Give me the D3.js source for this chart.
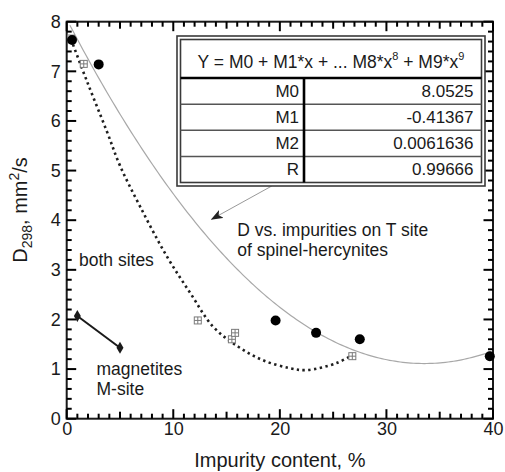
<!DOCTYPE html>
<html>
<head>
<meta charset="utf-8">
<script src="https://cdn.jsdelivr.net/npm/d3@7"></script>
<style>
  html, body { margin: 0; padding: 0; background: #fff; }
  svg { display: block; font-family: "Liberation Sans", Arial, sans-serif; }
</style>
</head>
<body>
<svg id="chart" width="505" height="472"></svg>
<script>
// Diffusivity at 298 K against impurity content
const xTicks = [0, 10, 20, 30, 40];
const yTicks = [0, 1, 2, 3, 4, 5, 6, 7, 8];

// spinel-hercynites, impurities on the T site (filled circles)
const circleX = [0.5, 3.0, 19.6, 23.4, 27.5, 39.7];
const circleY = [7.63, 7.14, 1.98, 1.73, 1.60, 1.26];

// both sites (crossed squares)
const squareX = [0.4, 1.6, 12.3, 15.5, 15.8, 26.8];
const squareY = [7.66, 7.15, 1.98, 1.60, 1.73, 1.26];

// magnetites, M site
const magnetX = [1.0, 5.0];
const magnetY = [2.07, 1.43];

// dotted guide through the "both sites" points
const guideX = [0.4, 1.9, 3.75, 5.0, 6.9, 9.4, 11.6, 13.75, 16.1, 18.4, 20.9, 22.5, 25.3, 26.7];
const guideY = [7.65, 6.8, 5.8, 5.1, 4.27, 3.27, 2.53, 1.85, 1.45, 1.18, 1.02, 0.98, 1.12, 1.27];

// polynomial fit table
const fitHeader = ["Y = M0 + M1*x + ... M8*x", "8", " + M9*x", "9"];
const fitNames = ["M0", "M1", "M2", "R"];
const fitValues = ["8.0525", "-0.41367", "0.0061636", "0.99666"];

(function draw() {
  const svg = d3.select("#chart");
  const pl = 66.7, pr = 493, pt = 21.7, pb = 418.7;

  const x = d3.scaleLinear().domain([0, 40]).range([pl, pr]);
  const y = d3.scaleLinear().domain([0, 8]).range([pb, pt]);

  const ink = "#1a1a1a";

  // tick labels
  const xLab = svg.append("g").attr("transform", `translate(0,${pb})`)
    .call(d3.axisBottom(x).tickValues(xTicks).tickSize(0).tickPadding(4).tickFormat(d3.format("d")));
  xLab.select(".domain").remove();
  xLab.selectAll("text").attr("font-size", 18).attr("fill", ink).attr("font-family", "Liberation Sans, Arial, sans-serif");

  const yLab = svg.append("g").attr("transform", `translate(${pl},0)`)
    .call(d3.axisLeft(y).tickValues(yTicks).tickSize(0).tickPadding(6).tickFormat(d3.format("d")));
  yLab.select(".domain").remove();
  yLab.selectAll("text").attr("font-size", 18).attr("fill", ink).attr("font-family", "Liberation Sans, Arial, sans-serif");

  // frame
  svg.append("rect")
    .attr("x", pl).attr("y", pt)
    .attr("width", pr - pl).attr("height", pb - pt)
    .attr("fill", "none").attr("stroke", ink).attr("stroke-width", 2);

  // inward tick marks on all four sides
  const xMarks = d3.range(0, 41).map(v => ({ v, len: v % 10 === 0 ? 9.5 : v % 5 === 0 ? 7 : 5 }));
  const yMarks = d3.range(0, 41).map(k => ({ v: k / 5, len: k % 5 === 0 ? 9.5 : 5 }));
  const tg = svg.append("g").attr("stroke", "#000").attr("stroke-width", 2);
  tg.selectAll(".xb").data(xMarks).join("line").attr("class", "xb")
    .attr("x1", d => x(d.v)).attr("x2", d => x(d.v))
    .attr("y1", pb).attr("y2", d => pb - d.len);
  tg.selectAll(".xt").data(xMarks).join("line").attr("class", "xt")
    .attr("x1", d => x(d.v)).attr("x2", d => x(d.v))
    .attr("y1", pt).attr("y2", d => pt + d.len);
  tg.selectAll(".yl").data(yMarks).join("line").attr("class", "yl")
    .attr("y1", d => y(d.v)).attr("y2", d => y(d.v))
    .attr("x1", pl).attr("x2", d => pl + d.len);
  tg.selectAll(".yr").data(yMarks).join("line").attr("class", "yr")
    .attr("y1", d => y(d.v)).attr("y2", d => y(d.v))
    .attr("x1", pr).attr("x2", d => pr - d.len);

  // ---- axis titles ----
  svg.append("text")
    .attr("x", (pl + pr) / 2).attr("y", 467)
    .attr("text-anchor", "middle").attr("font-size", 20).attr("fill", ink)
    .text("Impurity content, %");

  const yt = svg.append("text")
    .attr("transform", `translate(27,210) rotate(-90)`)
    .attr("text-anchor", "middle").attr("font-size", 20).attr("fill", ink);
  yt.append("tspan").text("D");
  yt.append("tspan").attr("font-size", 14).attr("dy", 5).text("298");
  yt.append("tspan").attr("dy", -5).text(", mm");
  yt.append("tspan").attr("font-size", 14).attr("dy", -8).text("2");
  yt.append("tspan").attr("dy", 8).text("/s");

  // ---- fitted polynomial (coefficients from the table) ----
  const coef = fitValues.slice(0, 3).map(Number);
  const fitXs = d3.range(0.3, 40.001, 0.25);
  const line = d3.line().x(d => x(d[0])).y(d => y(d[1]));
  svg.append("path")
    .datum(fitXs.map(v => [v, coef[0] + coef[1] * v + coef[2] * v * v]))
    .attr("d", line)
    .attr("fill", "none").attr("stroke", "#a8a8a8").attr("stroke-width", 1.2);

  // dotted guide
  svg.append("path")
    .datum(guideX.map((v, i) => [v, guideY[i]]))
    .attr("d", d3.line().x(d => x(d[0])).y(d => y(d[1])).curve(d3.curveCatmullRom))
    .attr("fill", "none").attr("stroke", "#1e1e1e").attr("stroke-width", 2.6)
    .attr("stroke-dasharray", "2.4,3.4");

  // magnetite segment
  svg.append("path")
    .datum(magnetX.map((v, i) => [v, magnetY[i]]))
    .attr("d", line)
    .attr("fill", "none").attr("stroke", ink).attr("stroke-width", 2);
  svg.selectAll(".diamond").data(magnetX).join("path")
    .attr("class", "diamond")
    .attr("transform", (d, i) => `translate(${x(d)},${y(magnetY[i])})`)
    .attr("d", d3.symbol(d3.symbolDiamond, 42))
    .attr("fill", ink);

  // crossed squares
  const sq = svg.selectAll(".sq").data(squareX).join("g")
    .attr("class", "sq")
    .attr("transform", (d, i) => `translate(${x(d)},${y(squareY[i])})`);
  sq.append("rect").attr("x", -3.5).attr("y", -3.5).attr("width", 7).attr("height", 7)
    .attr("fill", "#fff").attr("stroke", "#7a7a7a").attr("stroke-width", 1);
  sq.append("path").attr("d", "M-3.5,0H3.5M0,-3.5V3.5")
    .attr("stroke", "#7a7a7a").attr("stroke-width", 1);

  // filled circles
  svg.selectAll(".dot").data(circleX).join("circle")
    .attr("class", "dot")
    .attr("cx", d => x(d)).attr("cy", (d, i) => y(circleY[i]))
    .attr("r", 5).attr("fill", "#000");

  // ---- annotations ----
  function label(xv, yv, lines) {
    const t = svg.append("text").attr("font-size", 17.5).attr("fill", ink);
    lines.forEach((s, i) => t.append("tspan")
      .attr("x", x(xv)).attr("y", y(yv) + i * 20).text(s));
  }
  label(1.15, 3.08, ["both sites"]);
  label(2.8, 0.88, ["magnetites", "M-site"]);
  label(16.0, 3.68, ["D vs. impurities on T site", "of spinel-hercynites"]);

  // arrow from the table to the fitted curve
  svg.append("defs").append("marker")
    .attr("id", "head").attr("viewBox", "0 -5 12 10")
    .attr("refX", 11).attr("refY", 0)
    .attr("markerWidth", 12).attr("markerHeight", 10)
    .attr("markerUnits", "userSpaceOnUse").attr("orient", "auto")
    .append("path").attr("d", "M0,-4.5L12,0L0,4.5L3,0Z").attr("fill", "#222");
  svg.append("line")
    .attr("x1", x(19.25)).attr("y1", y(4.69))
    .attr("x2", x(13.6)).attr("y2", y(4.02))
    .attr("stroke", "#999").attr("stroke-width", 1)
    .attr("marker-end", "url(#head)");

  // ---- fit table ----
  const T = { x0: 177, y0: 36, x1: 485, y1: 186, gap: 3.5, head: 78, split: 304 };
  const tbl = svg.append("g");
  tbl.append("rect").attr("x", T.x0).attr("y", T.y0)
    .attr("width", T.x1 - T.x0).attr("height", T.y1 - T.y0)
    .attr("fill", "#fff").attr("stroke", "#3a3a3a").attr("stroke-width", 1.6);
  const ix0 = T.x0 + T.gap, iy0 = T.y0 + T.gap, ix1 = T.x1 - T.gap, iy1 = T.y1 - T.gap;
  tbl.append("rect").attr("x", ix0).attr("y", iy0)
    .attr("width", ix1 - ix0).attr("height", iy1 - iy0)
    .attr("fill", "none").attr("stroke", "#3a3a3a").attr("stroke-width", 1.6);

  const rowH = (iy1 - T.head) / fitNames.length;
  fitNames.slice(1).forEach((_, i) => {
    tbl.append("line").attr("x1", ix0).attr("x2", ix1)
      .attr("y1", T.head + rowH * (i + 1)).attr("y2", T.head + rowH * (i + 1))
      .attr("stroke", "#555").attr("stroke-width", 1.5);
  });
  tbl.append("line").attr("x1", ix0).attr("x2", ix1)
    .attr("y1", T.head).attr("y2", T.head)
    .attr("stroke", "#000").attr("stroke-width", 2.6);
  tbl.append("line").attr("x1", T.split).attr("x2", T.split)
    .attr("y1", T.head).attr("y2", iy1)
    .attr("stroke", "#000").attr("stroke-width", 2.6);

  const ht = tbl.append("text").attr("x", (ix0 + ix1) / 2).attr("y", 68)
    .attr("text-anchor", "middle").attr("font-size", 17.5).attr("fill", ink);
  fitHeader.forEach((s, i) => {
    const sp = ht.append("tspan").text(s);
    if (i % 2 === 1) sp.attr("font-size", 11).attr("dy", -8);
    else if (i > 0) sp.attr("dy", 8);
  });

  fitNames.forEach((n, i) => {
    const cy = T.head + rowH * (i + 0.5) + 6;
    tbl.append("text").attr("x", T.split - 5).attr("y", cy)
      .attr("text-anchor", "end").attr("font-size", 17).attr("fill", ink).text(n);
    tbl.append("text").attr("x", ix1 - 8).attr("y", cy)
      .attr("text-anchor", "end").attr("font-size", 17).attr("fill", ink).text(fitValues[i]);
  });
})();
</script>
</body>
</html>
